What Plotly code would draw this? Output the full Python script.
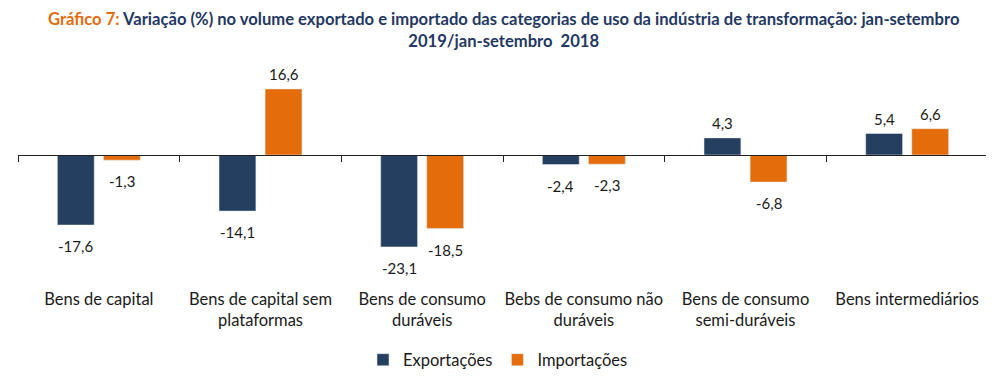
import plotly.graph_objects as go

categories = ["Bens de capital", "Bens de capital sem<br>plataformas", "Bens de consumo<br>duráveis",
              "Bebs de consumo não<br>duráveis", "Bens de consumo<br>semi-duráveis", "Bens intermediários"]
exportacoes = [-17.6, -14.1, -23.1, -2.4, 4.3, 5.4]
importacoes = [-1.3, 16.6, -18.5, -2.3, -6.8, 6.6]

NAVY = "#253F61"
ORANGE = "#E46C0A"
FONT = "Lato"
TXT = "#1A1A1A"

def fmt(v):
    return f"{v:.1f}".replace(".", ",")

xs = list(range(len(categories)))
ymin, ymax = -28.9, 20.1

fig = go.Figure()
fig.add_trace(go.Bar(x=xs, y=exportacoes, name="Exportações", marker_color=NAVY, hoverinfo="skip"))
fig.add_trace(go.Bar(x=xs, y=importacoes, name="Importações", marker_color=ORANGE, hoverinfo="skip"))
# helper trace for the zero-line axis with boundary ticks
fig.add_trace(go.Scatter(x=[-0.5], y=[0], xaxis="x2", mode="markers", marker=dict(opacity=0),
                         showlegend=False, hoverinfo="skip"))

annotations = []
for series, xshift in ((exportacoes, -23), (importacoes, 23)):
    for i, v in zip(xs, series):
        annotations.append(dict(x=i, y=v, xref="x", yref="y", text=fmt(v), showarrow=False,
                                xshift=xshift, yshift=15 if v > 0 else -21, yanchor="middle",
                                font=dict(size=15, color=TXT, family=FONT)))
annotations.append(dict(
    text="<b><span style='color:#E46C0A'>Gráfico 7:</span> Variação (%) no volume exportado e importado das categorias de uso da indústria de transformação: jan-setembro<br>2019/jan-setembro  2018</b>",
    x=0.5, xref="paper", xanchor="center", y=1, yref="paper", yanchor="bottom", yshift=22,
    showarrow=False, align="center", font=dict(family=FONT, size=16.6, color="#1F3864")))

zero_pos = (0 - ymin) / (ymax - ymin)

fig.update_layout(
    width=986, height=373,
    margin=dict(l=10, r=6, t=67, b=111, autoexpand=False),
    plot_bgcolor="white", paper_bgcolor="white",
    barmode="group", bargap=0.43, bargroupgap=0.2,
    font=dict(family=FONT, size=16.5, color=TXT),
    annotations=annotations,
    xaxis=dict(range=[-0.5, 5.5], tickvals=xs, ticktext=categories, showline=False, showgrid=False,
               zeroline=False, ticks="outside", ticklen=14, tickcolor="rgba(0,0,0,0)", automargin=False,
               tickfont=dict(size=16.5, color=TXT, family=FONT)),
    xaxis2=dict(range=[-0.5, 5.5], overlaying="x", anchor="free", position=zero_pos, side="bottom",
                tickvals=[i - 0.5 for i in range(len(categories) + 1)], showticklabels=False,
                ticks="outside", ticklen=6, tickcolor="#222222", showline=True, linecolor="#222222",
                linewidth=1.3, showgrid=False, zeroline=False, automargin=False),
    yaxis=dict(range=[ymin, ymax], visible=False, showgrid=False, zeroline=False, automargin=False),
    legend=dict(orientation="h", x=0.5 - 5 / 970, xanchor="center", y=-90 / 195, yanchor="middle",
                font=dict(size=16.5, color=TXT, family=FONT), itemwidth=30,
                traceorder="normal"),
)

fig.write_html("out.html")
